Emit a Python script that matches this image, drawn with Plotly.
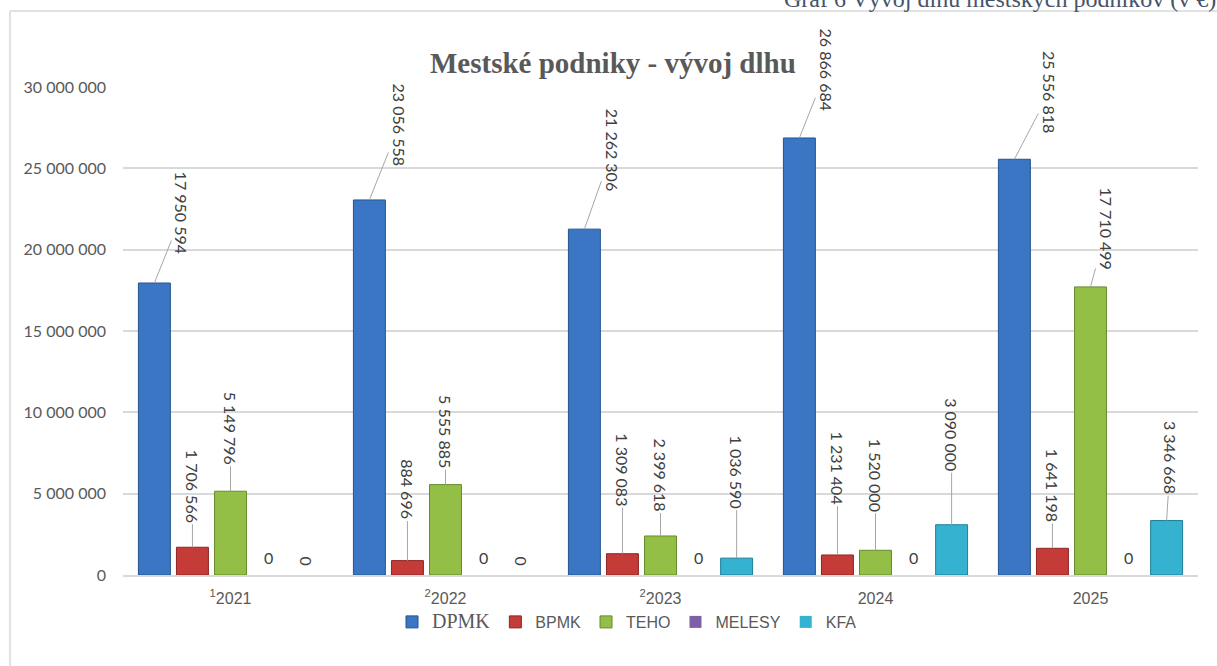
import plotly.graph_objects as go

# ---- data ----
categories = ["<sup>1</sup>2021", "<sup>2</sup>2022", "<sup>2</sup>2023", "2024", "2025"]
series_names = ["DPMK", "BPMK", "TEHO", "MELESY", "KFA"]
dpmk = [17950594, 23056558, 21262306, 26866684, 25556818]
bpmk = [1706566, 884696, 1309083, 1231404, 1641198]
teho = [5149796, 5555885, 2399618, 1520000, 17710499]
melesy = [0, 0, 0, 0, 0]
kfa = [0, 0, 1036590, 3090000, 3346668]
y_ticks = [0, 5000000, 10000000, 15000000, 20000000, 25000000, 30000000]

series_values = [dpmk, bpmk, teho, melesy, kfa]
colors = ["#3A76C4", "#C43B38", "#94BF47", "#7E60A8", "#35B2D0"]
edge = ["#24548F", "#8E2624", "#688A2C", "#563F7A", "#1F7F97"]
legend_names = ['<span style="font-family:Liberation Serif;font-size:20px">DPMK</span>',
                "BPMK", "TEHO", "MELESY", "KFA"]

# label offsets in pixels (ax, ay) per series per category - styling only
label_off = {
    0: [(28, -70), (30, -75), (28, -79), (27, -68), (35, -67)],
    1: [(0, -61), (0, -71), (0, -84), (0, -87), (0, -63)],
    2: [(0, -63), (0, -53), (0, -61), (0, -75), (16, -59)],
    4: [(0, -15), (0, -15), (0, -86), (0, -90), (4, -63)],
}

def fmt(v):
    return f"{v:,}".replace(",", " ")

fig = go.Figure()
for name, vals, c, e in zip(legend_names, series_values, colors, edge):
    fig.add_trace(go.Bar(
        x=categories, y=vals, name=name,
        marker=dict(color=c, line=dict(color=e, width=[1 if v > 0 else 0 for v in vals])),
    ))

slot = 0.177
annotations = []
label_font = dict(family="Lato, Carlito, sans-serif", size=16, color="#404040")
for si, vals in enumerate(series_values):
    for ci, v in enumerate(vals):
        xpos = ci + (si - 2) * slot
        if si == 3:
            annotations.append(dict(x=xpos, y=v, xref="x", yref="y", text=fmt(v),
                                    showarrow=False, yshift=18, font=label_font))
        elif v == 0:
            annotations.append(dict(x=xpos, y=v, xref="x", yref="y", text=fmt(v),
                                    showarrow=False, yshift=14, textangle=90, font=label_font))
        else:
            ax, ay = label_off[si][ci]
            annotations.append(dict(x=xpos, y=v, xref="x", yref="y", text=fmt(v),
                                    showarrow=True, arrowhead=0, arrowwidth=1,
                                    arrowcolor="#A6A6A6", ax=ax, ay=ay, standoff=0,
                                    textangle=90, font=label_font))

# plot geometry
L, R, T, B = 123, 19, 87, 91
W, H = 1217, 666
pw, ph = W - L - R, H - T - B
def px(xp):
    return (xp - L) / pw
def py(yp):
    return (H - B - yp) / ph

annotations.append(dict(xref="paper", yref="paper", x=px(613), y=py(45),
                        text="<b>Mestské podniky - vývoj dlhu</b>", showarrow=False,
                        font=dict(family="Liberation Serif, serif", size=29, color="#595959")))
annotations.append(dict(xref="paper", yref="paper", x=px(1217), y=py(13),
                        xanchor="right", yanchor="bottom", borderpad=0,
                        text="Graf 6 Vývoj dlhu mestských podnikov (v €)", showarrow=False,
                        font=dict(family="Liberation Serif, serif", size=24, color="#44546A")))

shapes = [
    dict(type="line", xref="paper", yref="paper", x0=px(10), x1=px(10), y0=py(11), y1=py(700),
         line=dict(color="#D9D9D9", width=1.5)),
    dict(type="line", xref="paper", yref="paper", x0=px(10), x1=px(1230), y0=py(11), y1=py(11),
         line=dict(color="#D9D9D9", width=1.5)),
]

fig.update_layout(
    width=W, height=H,
    margin=dict(l=L, r=R, t=T, b=B, pad=0),
    plot_bgcolor="white", paper_bgcolor="white",
    barmode="group", bargap=0.115, bargroupgap=0.16,
    showlegend=True,
    legend=dict(orientation="h", x=px(627), xanchor="center", y=py(622), yanchor="middle",
                font=dict(family="Liberation Sans Narrow, Liberation Sans, sans-serif", size=16, color="#595959"),
                itemwidth=30, tracegroupgap=0),
    annotations=annotations,
    shapes=shapes,
    font=dict(family="Lato, sans-serif", color="#595959"),
)
fig.update_xaxes(showgrid=False, showline=True, linecolor="#D9D9D9", linewidth=1.5,
                 ticks="", tickfont=dict(family="Liberation Sans Narrow, Liberation Sans, sans-serif", size=16, color="#595959"),
                 ticklabelstandoff=8)
fig.update_yaxes(range=[0, 30000000], tickvals=y_ticks,
                 ticktext=[fmt(v) for v in y_ticks],
                 showgrid=True, gridcolor="#D9D9D9", gridwidth=1.5, zeroline=False,
                 showline=False, ticks="", ticklabelstandoff=16,
                 tickfont=dict(family="Lato, sans-serif", size=16, color="#595959"))

fig.write_html("out.html", config={"displayModeBar": False},
               post_script="document.body.style.margin='0';")
